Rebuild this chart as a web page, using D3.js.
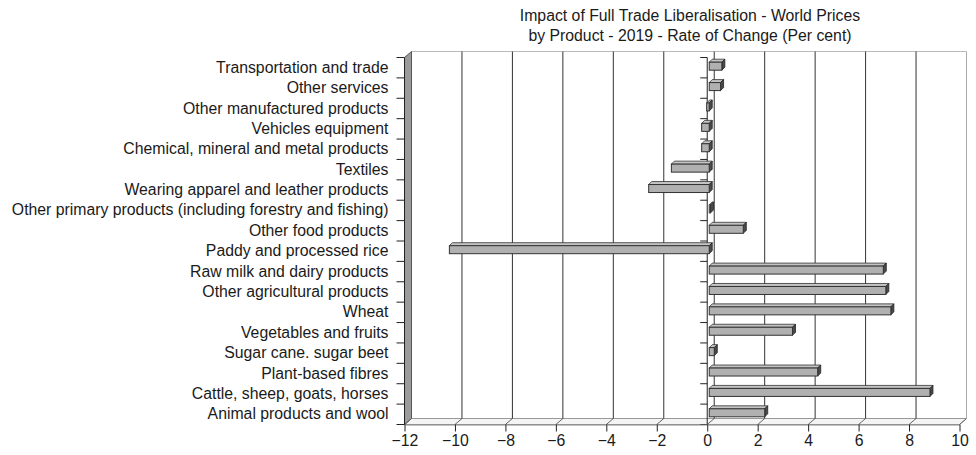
<!DOCTYPE html>
<html><head><meta charset="utf-8">
<script src="https://cdn.jsdelivr.net/npm/d3@7/dist/d3.min.js"></script>
<style>body{margin:0;background:#fff;} text{font-family:"Liberation Sans",Arial,sans-serif;}</style>
</head><body><svg id="c" width="976" height="455"></svg>
<script>
const titleLines = ["Impact of Full Trade Liberalisation - World Prices", "by Product - 2019 - Rate of Change (Per cent)"];
const categories = [
  "Transportation and trade","Other services","Other manufactured products","Vehicles equipment",
  "Chemical, mineral and metal products","Textiles","Wearing apparel and leather products",
  "Other primary products (including forestry and fishing)","Other food products","Paddy and processed rice",
  "Raw milk and dairy products","Other agricultural products","Wheat","Vegetables and fruits",
  "Sugar cane. sugar beet","Plant-based fibres","Cattle, sheep, goats, horses","Animal products and wool"];
const values = [0.5,0.45,-0.1,-0.3,-0.3,-1.5,-2.4,0.05,1.35,-10.3,6.9,7.0,7.2,3.3,0.2,4.3,8.75,2.2];
const xTicks = [-12,-10,-8,-6,-4,-2,0,2,4,6,8,10];

const svg = d3.select("#c");
const DX = 7, DY = -6;
const FS = 15.8;
const x = d3.scaleLinear().domain([-12,10]).range([404.5,959.5]);
const y = d3.scaleBand().domain(categories).range([57.5,424.5]);
const top0 = 57.5, bot0 = 424.5;

// title
svg.append("g").selectAll("text").data(titleLines).join("text")
  .attr("x",690).attr("y",(d,i)=>20.5+i*20.5).attr("text-anchor","middle")
  .attr("font-size",FS).attr("fill","#1a1a1a").text(d=>d);

// floor
svg.append("path").attr("d",`M${x(-12)},${bot0}L${x(-12)+DX},${bot0+DY}L${x(10)+DX},${bot0+DY}L${x(10)},${bot0}Z`)
  .attr("fill","#f4f4f4").attr("stroke","#999");
svg.append("g").selectAll("line").data(xTicks).join("line")
  .attr("x1",d=>x(d)).attr("y1",bot0).attr("x2",d=>x(d)+DX).attr("y2",bot0+DY)
  .attr("stroke","#666");
// back top and right border
svg.append("line").attr("x1",x(-12)+DX).attr("x2",x(10)+DX).attr("y1",top0+DY).attr("y2",top0+DY).attr("stroke","#bbb");
// gridlines on back plane
svg.append("g").selectAll("line").data(xTicks.slice(1)).join("line")
  .attr("x1",d=>x(d)+DX).attr("x2",d=>x(d)+DX).attr("y1",top0+DY).attr("y2",bot0+DY)
  .attr("stroke",d=>d===10?"#aaa":"#333");
// left wall
svg.append("path").attr("d",`M${x(-12)},${top0}L${x(-12)+DX},${top0+DY}L${x(-12)+DX},${bot0+DY}L${x(-12)},${bot0}Z`)
  .attr("fill","#9b9b9b").attr("stroke","#555");

// front zero axis line with ticks
const bounds = d3.range(categories.length+1).map(i=>top0 + i*y.step());
svg.append("line").attr("x1",x(0)).attr("x2",x(0)).attr("y1",top0).attr("y2",bot0).attr("stroke","#222");
svg.append("g").selectAll("line").data(bounds).join("line")
  .attr("x1",x(0)-7).attr("x2",x(0)).attr("y1",d=>d).attr("y2",d=>d).attr("stroke","#222");
// left axis
svg.append("line").attr("x1",x(-12)).attr("x2",x(-12)).attr("y1",top0).attr("y2",bot0).attr("stroke","#222");
svg.append("g").selectAll("line").data(bounds).join("line")
  .attr("x1",x(-12)-8).attr("x2",x(-12)).attr("y1",d=>d).attr("y2",d=>d).attr("stroke","#222");

// bars
const BX = 2, BY = -1.5, BD = 3, BH = 8;
const bars = svg.append("g").selectAll("g").data(categories.map((c,i)=>({c,v:values[i]}))).join("g");
bars.each(function(d){
  const g = d3.select(this);
  const x0 = x(Math.min(0,d.v))+BX, x1 = x(Math.max(0,d.v))+BX;
  const yc = y(d.c)+y.bandwidth()/2+BY;
  const y0 = yc-BH/2, y1 = yc+BH/2;
  g.append("path").attr("d",`M${x0},${y0}L${x0+BD},${y0-BD}L${x1+BD},${y0-BD}L${x1},${y0}Z`)
    .attr("fill","#c4c4c4").attr("stroke","#333").attr("stroke-width",0.8).attr("stroke-linejoin","round");
  g.append("path").attr("d",`M${x1},${y0}L${x1+BD},${y0-BD}L${x1+BD},${y1-BD}L${x1},${y1}Z`)
    .attr("fill","#4a4a4a").attr("stroke","#222").attr("stroke-width",0.8);
  g.append("rect").attr("x",x0).attr("y",y0).attr("width",Math.max(0.5,x1-x0)).attr("height",BH)
    .attr("fill","#b0b0b0").attr("stroke","#333").attr("stroke-width",1);
});

// front bottom axis
const xAxis = d3.axisBottom(x).tickValues(xTicks).tickSize(7).tickPadding(3).tickSizeOuter(0);
const gx = svg.append("g").attr("transform",`translate(0,${bot0})`).call(xAxis);
gx.select(".domain").attr("stroke","#888");
gx.selectAll(".tick line").attr("stroke","#222");
gx.selectAll("text").attr("font-size",FS).attr("fill","#1a1a1a").attr("font-family","Liberation Sans, Arial, sans-serif");

// category labels
const yAxis = d3.axisLeft(y).tickSize(0).tickPadding(16);
const gy = svg.append("g").attr("transform",`translate(${x(-12)},0)`).call(yAxis);
gy.select(".domain").remove();
gy.selectAll("text").attr("font-size",FS).attr("fill","#1a1a1a").attr("font-family","Liberation Sans, Arial, sans-serif");
</script></body></html>
